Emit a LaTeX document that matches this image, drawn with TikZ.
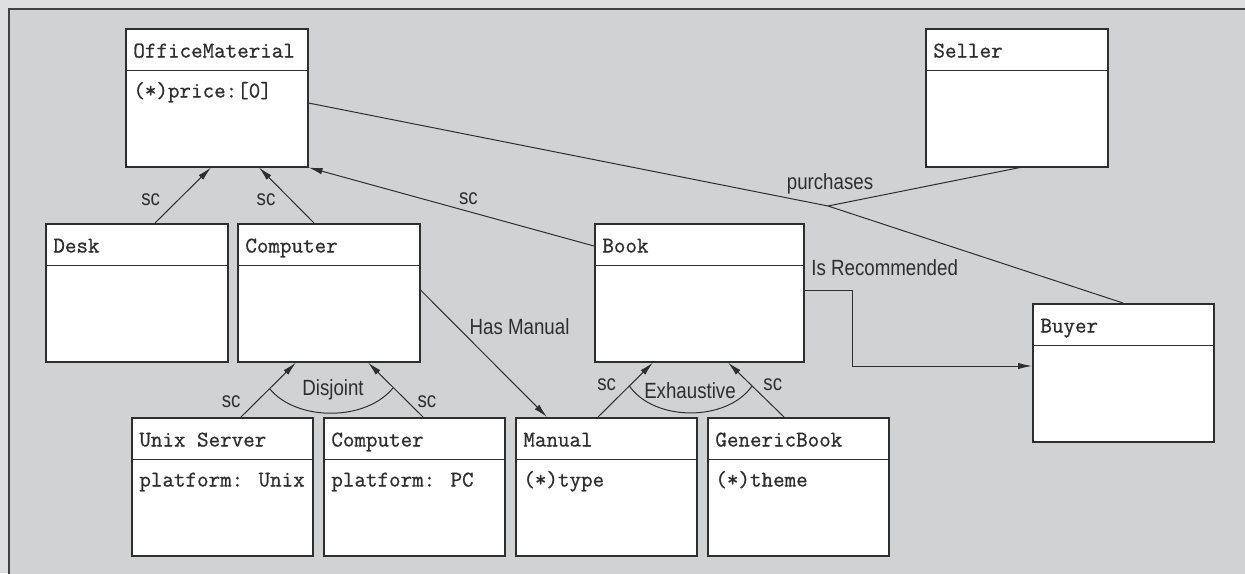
\documentclass[tikz,border=0pt]{standalone}
\usepackage{fontspec}
\usetikzlibrary{arrows.meta,positioning}
\newfontfamily\classfont[FakeBold=0.8]{Latin Modern Mono}
\newfontfamily\labelfont[FakeStretch=0.85]{Liberation Sans}
\definecolor{outergray}{HTML}{DDDEE0}
\definecolor{innergray}{HTML}{D1D2D4}
\definecolor{linegray}{HTML}{2E2E2E}

\tikzset{
  classbox/.style={draw=linegray, fill=white, line width=0.75pt, anchor=north west,
    minimum height=69pt, inner sep=0pt},
  classtext/.style={anchor=base west, inner sep=0pt, font=\classfont\fontsize{11.2}{13}\selectfont, text=linegray},
  lbl/.style={inner sep=1pt, font=\labelfont\fontsize{11}{13}\selectfont, text=linegray},
  conn/.style={draw=linegray, line width=0.5pt},
  isa/.style={conn, -{Latex[length=7pt,width=3.2pt]}},
}

% name, left, top, width, title, attribute
\newcommand{\umlclass}[6]{%
  \node[classbox, minimum width=#4*0.5pt] (#1) at (#2,#3) {};
  \draw[linegray, line width=0.75pt] ([shift={(0,42.5)}]#1.north west) -- ([shift={(0,42.5)}]#1.north east);
  \node[classtext] (#1-title) at ([shift={(8,29.5)}]#1.north west) {#5};
  \node[classtext] (#1-attr) at ([shift={(8,69.5)}]#1.north west) {#6};
}

\begin{document}
\begin{tikzpicture}[x=0.5pt,y=-0.5pt]
\useasboundingbox (0,0) rectangle (1245,573);
\fill[outergray] (0,0) rectangle (1245,573);
\filldraw[fill=innergray, draw=linegray!90, line width=1pt] (1260,590) -- (8.5,590) -- (8.5,8.5) -- (1260,8.5);

\umlclass{om}{125}{28}{182}{OfficeMaterial}{(*)price:[0]}
\umlclass{seller}{925}{28}{182}{Seller}{}
\umlclass{desk}{45}{223}{182}{Desk}{}
\umlclass{computer}{237}{223}{182}{Computer}{}
\umlclass{book}{594}{223}{209}{Book}{}
\umlclass{unix}{131}{417}{181}{Unix Server}{platform: Unix}
\umlclass{pc}{323}{417}{181}{Computer}{platform: PC}
\umlclass{manual}{515}{417}{181}{Manual}{(*)type}
\umlclass{generic}{707}{417}{181}{GenericBook}{(*)theme}
\umlclass{buyer}{1032}{303}{181}{Buyer}{}

% subclass links
\draw[isa] ([shift={(110,0)}]desk.north west) -- node[lbl, pos=0.42, left=8pt] (sc-desk) {sc} ([shift={(86,0)}]om.south west);
\draw[isa] ([shift={(77,0)}]computer.north west) -- node[lbl, pos=0.42, left=6.5pt] (sc-comp) {sc} ([shift={(134,0)}]om.south west);
\draw[isa] ([shift={(0,23)}]book.north west) -- node[lbl, pos=0.44, above=2pt] (sc-book) {sc} (om.south east);

\draw[isa] ([shift={(110,0)}]unix.north west) -- coordinate[pos=0.52] (dj1) node[lbl, pos=0.29, left=7pt] (sc-unix) {sc} ([shift={(59,0)}]computer.south west);
\draw[isa] ([shift={(100,0)}]pc.north west) -- coordinate[pos=0.54] (dj2) node[lbl, pos=0.29, right=4pt] (sc-pc) {sc} ([shift={(131,0)}]computer.south west);
\draw[conn] (dj1) .. controls +(27,33) and +(-27,34) .. (dj2);
\node[lbl] (disjoint) at (333,390) {Disjoint};

\draw[isa] ([shift={(83,0)}]manual.north west) -- coordinate[pos=0.57] (ex1) node[lbl, pos=0.59, left=6pt] (sc-manual) {sc} ([shift={(59,0)}]book.south west);
\draw[isa] ([shift={(77,0)}]generic.north west) -- coordinate[pos=0.57] (ex2) node[lbl, pos=0.59, right=5pt] (sc-generic) {sc} ([shift={(134,0)}]book.south west);
\draw[conn] (ex1) .. controls +(25,36) and +(-25,36) .. (ex2);
\node[lbl] (exhaustive) at (690,391) {Exhaustive};

% associations
\coordinate (purch) at (828,206);
\draw[conn] ([shift={(0,75)}]om.north east) -- (purch) -- ([shift={(95,0)}]seller.south west);
\draw[conn] (purch) -- ([shift={(91,0)}]buyer.north west);
\node[lbl] (purch-lbl) at (830,184) {purchases};

\draw[isa] ([shift={(0,67)}]computer.north east) -- node[lbl, pos=0.29, anchor=west, xshift=5pt] (hasmanual) {Has Manual} ([shift={(32,0)}]manual.north west);
\draw[isa] ([shift={(0,67)}]book.north east) -- ++(48,0) |- ([shift={(0,63)}]buyer.north west);
\node[lbl, anchor=west] (isrec) at (809,268) {Is Recommended};
\end{tikzpicture}
\end{document}
